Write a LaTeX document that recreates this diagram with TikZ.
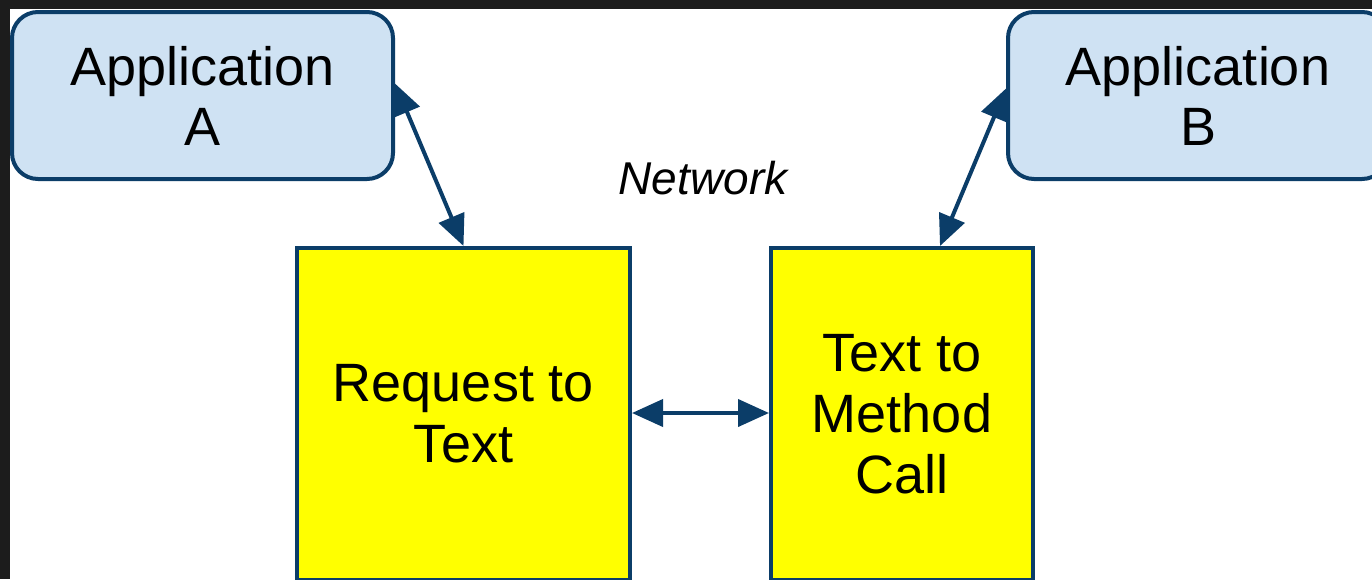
\documentclass[tikz,border=0pt]{standalone}
\usepackage{fontspec}
\setmainfont{Liberation Sans}
\usetikzlibrary{arrows.meta}
\definecolor{edge}{HTML}{0B3D68}
\definecolor{appfill}{HTML}{CFE2F3}
\definecolor{procfill}{RGB}{255,255,0}
\definecolor{darkbg}{HTML}{1C1C1C}
\tikzset{
  appbox/.style={draw=edge, fill=appfill, line width=4pt, rounded corners=26pt,
    align=center, font=\fontsize{54}{60}\selectfont, inner sep=0pt},
  procbox/.style={draw=edge, fill=procfill, line width=4pt,
    align=center, font=\fontsize{54}{61}\selectfont, inner sep=0pt},
  link/.style={draw=edge, line width=4pt,
    {Triangle[length=31pt,width=27pt]}-{Triangle[length=31pt,width=27pt]}},
  lbl/.style={font=\fontsize{46}{50}\selectfont\itshape, inner sep=0pt}
}
\begin{document}
\begin{tikzpicture}[x=1pt,y=-1pt]
\useasboundingbox (0,0) rectangle (1372,579);
\fill[darkbg] (0,0) rectangle (1372,579);
\fill[white] (10,9) rectangle (1372,579);
\node[appbox, minimum width=381pt, minimum height=167pt] (appA) at (202.5,95.5) {Application\\A};
\node[appbox, minimum width=380pt, minimum height=167pt] (appB) at (1198,95.5) {Application\\B};
\node[lbl] (net) at (703,178) {Network};
\node[procbox, minimum width=333pt, minimum height=332pt] (reqA) at (463.5,414) {Request to\\Text};
\node[procbox, minimum width=262pt, minimum height=332pt] (txtB) at (902,414) {Text to\\Method\\Call};
\draw[link] ([yshift=12pt]appA.east) -- (reqA.north);
\draw[link] ([yshift=7pt]appB.west) -- ([xshift=38pt]txtB.north);
\draw[link] (reqA.east |- 0,413) -- (txtB.west |- 0,413);
\end{tikzpicture}
\end{document}
